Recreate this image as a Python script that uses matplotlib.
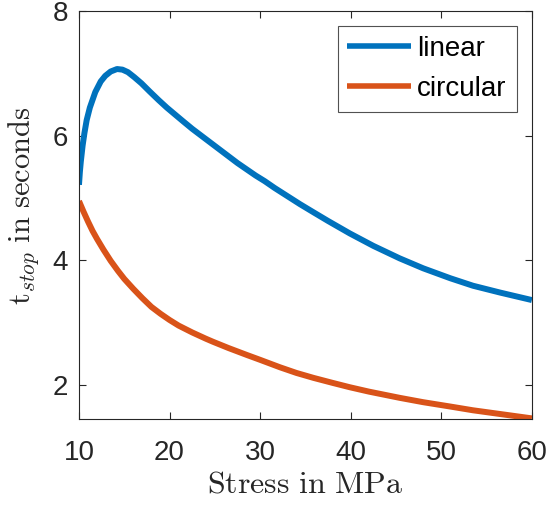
import matplotlib
matplotlib.use("Agg")
import matplotlib.pyplot as plt

# values
stress_lin = [10, 10.1, 10.2, 10.4, 10.6, 10.85, 11.2, 11.8, 12.4, 12.9, 13.5, 14.2, 14.8,
              15.4, 16.1, 16.9, 17.8, 18.8, 19.7, 20.6, 21.5, 22.5, 23.5, 24.5, 25.5, 26.5,
              27.5, 28.5, 29.5, 30.5, 31.6, 33, 34.4, 36, 37.5, 39.9, 42.5, 45.4, 48, 51,
              53.5, 56.5, 60]
t_linear = [5.21, 5.42, 5.58, 5.84, 6.04, 6.25, 6.45, 6.70, 6.87, 6.96, 7.03, 7.07, 7.06,
            7.02, 6.94, 6.84, 6.71, 6.57, 6.45, 6.34, 6.23, 6.11, 6.00, 5.89, 5.78, 5.67,
            5.56, 5.46, 5.36, 5.27, 5.16, 5.03, 4.90, 4.76, 4.63, 4.43, 4.23, 4.03, 3.87, 3.71,
            3.59, 3.48, 3.36]

stress_circ = [10, 10.5, 11, 11.5, 12, 12.7, 13.5, 14.3, 15, 16, 17, 18, 19, 20, 21, 22.5,
               24, 24.8, 26.5, 28.5, 30, 32.2, 34, 35.9, 38, 39.9, 42, 45.4, 48, 51, 53.5,
               56.5, 60]
t_circular = [4.95, 4.78, 4.62, 4.47, 4.34, 4.17, 3.99, 3.83, 3.70, 3.54, 3.39, 3.25, 3.14,
              3.04, 2.95, 2.84, 2.74, 2.69, 2.59, 2.48, 2.40, 2.28, 2.19, 2.11, 2.03, 1.96,
              1.89, 1.79, 1.72, 1.65, 1.59, 1.53, 1.46]

x_ticks = [10, 20, 30, 40, 50, 60]
y_ticks = [2, 4, 6, 8]

plt.rcParams['font.family'] = ['Liberation Sans', 'DejaVu Sans']
plt.rcParams['mathtext.fontset'] = 'cm'

fig = plt.figure(figsize=(5.5, 5.05), dpi=100)
ax = fig.add_axes([0.1436, 0.1703, 0.8234, 0.8077])

ax.plot(stress_lin, t_linear, color='#0072BD', lw=4.3, label='linear',
        solid_capstyle='butt', solid_joinstyle='round')
ax.plot(stress_circ, t_circular, color='#D95319', lw=4.3, label='circular',
        solid_capstyle='butt', solid_joinstyle='round')

ax.set_xlim(10, 60)
ax.set_ylim(1.45, 8)
ax.set_xticks(x_ticks)
ax.set_yticks(y_ticks)

axc = '#262626'
for s in ax.spines.values():
    s.set_color(axc)
    s.set_linewidth(0.8)
ax.tick_params(direction='in', length=5, width=0.8, color=axc, labelsize=20,
               labelcolor=axc, top=True, right=True)
ax.tick_params(axis='x', pad=15)
ax.tick_params(axis='y', pad=8)

ax.set_xlabel(r'$\mathrm{Stress\ in\ MPa}$', fontsize=23, color=axc, labelpad=3)
ax.set_ylabel(r'$\mathrm{t}_{stop}\ \mathrm{in\ seconds}$', fontsize=22, color=axc)
ax.yaxis.set_label_coords(-0.084, 0.522)

leg = ax.legend(loc='upper right', fontsize=20, frameon=True, fancybox=False,
                edgecolor=axc, handlelength=2.3, handletextpad=0.22,
                borderaxespad=0.55, labelspacing=0.5, borderpad=0.35)
leg.get_frame().set_linewidth(0.8)
for line in leg.get_lines():
    line.set_linewidth(4)

fig.savefig('out.png', dpi=100, facecolor='white')
